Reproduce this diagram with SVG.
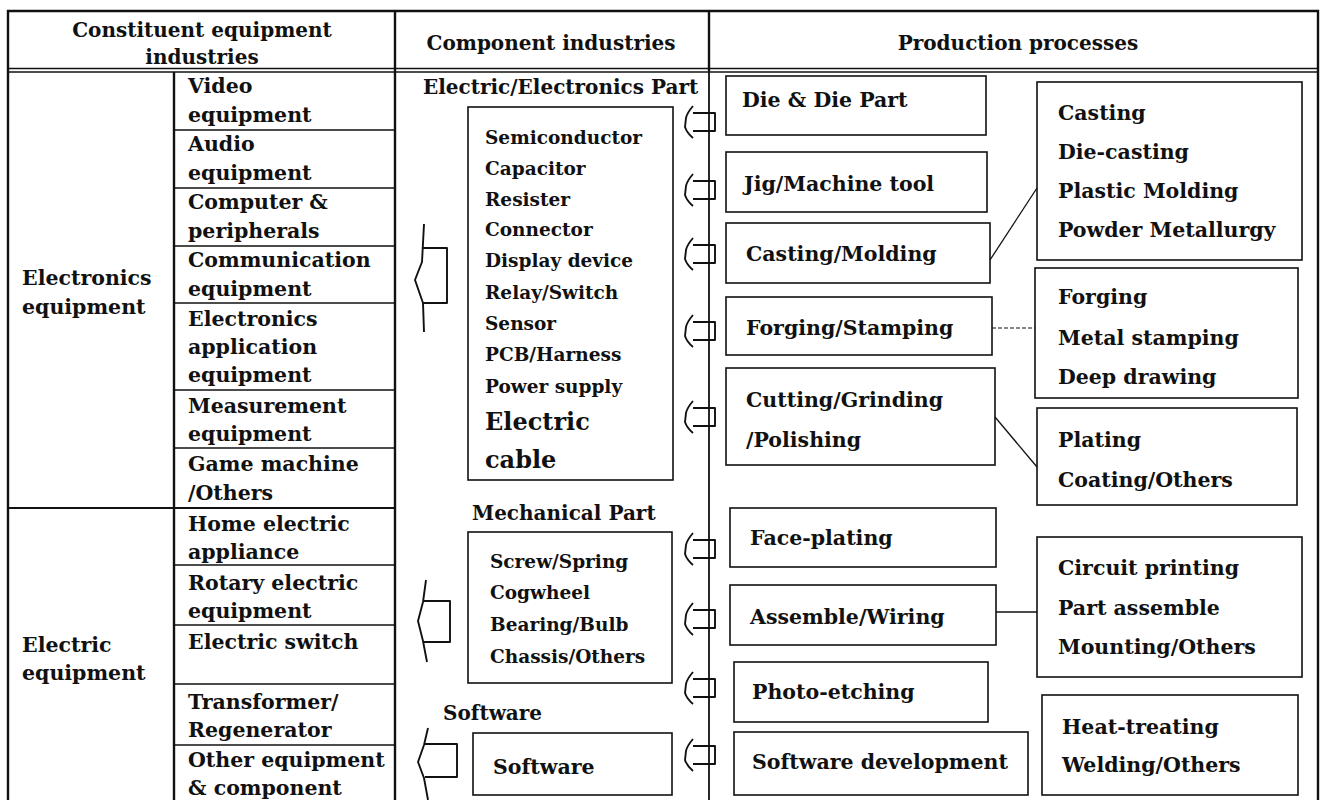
<svg xmlns="http://www.w3.org/2000/svg" xmlns:xlink="http://www.w3.org/1999/xlink" width="1325" height="800" viewBox="0 0 1325 800">
<style>
.t{font-family:"DejaVu Serif","Liberation Serif",serif;font-weight:bold;font-size:20.5px;fill:#111}
.h{font-size:20px}
.lb{font-size:20px}
.s{font-size:18.5px}
.big{font-size:24px}
.c3{font-size:20.5px}
.box{fill:none;stroke:#111;stroke-width:1.6}
.ln{fill:none;stroke:#111;stroke-width:1.3}
.fr{fill:none;stroke:#111;stroke-width:2.4}
.dash{fill:none;stroke:#111;stroke-width:1.2;stroke-dasharray:4 2}
.ar{fill:none;stroke:#111;stroke-width:1.9;stroke-linejoin:round}
</style>
<defs>
<g id="sa">
<path class="ar" d="M9,-16 Q3,-9 2,-4 L1,5 Q3,11 9,16"/>
<path class="ar" d="M9,-9 H31 V9 H9"/>
</g>
</defs>
<rect width="1325" height="800" fill="#fff"/>

<g id="table">
<path class="fr" d="M8,800 V11 H1318 V800"/>
<line class="fr" x1="395" y1="11" x2="395" y2="800"/>
<line class="fr" x1="709" y1="11" x2="709" y2="71"/>
<line class="ln" x1="8" y1="68.5" x2="1318" y2="68.5"/>
<line class="ln" x1="8" y1="72" x2="1318" y2="72"/>
<line class="fr" x1="174" y1="72" x2="174" y2="800"/>
<line class="ln" x1="174" y1="130" x2="395" y2="130"/>
<line class="ln" x1="174" y1="188" x2="395" y2="188"/>
<line class="ln" x1="174" y1="246" x2="395" y2="246"/>
<line class="ln" x1="174" y1="303" x2="395" y2="303"/>
<line class="ln" x1="174" y1="390" x2="395" y2="390"/>
<line class="ln" x1="174" y1="448" x2="395" y2="448"/>
<line class="ln" x1="8" y1="508" x2="395" y2="508" style="stroke-width:1.8"/>
<line class="ln" x1="174" y1="565" x2="395" y2="565"/>
<line class="ln" x1="174" y1="625" x2="395" y2="625"/>
<line class="ln" x1="174" y1="684" x2="395" y2="684"/>
<line class="ln" x1="174" y1="745" x2="395" y2="745"/>
</g>

<g id="headers">
<text class="t h" x="202" y="37" text-anchor="middle">Constituent equipment</text>
<text class="t h" x="202" y="64" text-anchor="middle">industries</text>
<text class="t h" x="551" y="50" text-anchor="middle">Component industries</text>
<text class="t h" x="1018" y="50" text-anchor="middle">Production processes</text>
</g>

<g id="grp-electronics"><text class="t" x="22" y="285">Electronics</text><text class="t" x="22" y="314">equipment</text></g>
<g id="grp-electric"><text class="t" x="22" y="652">Electric</text><text class="t" x="22" y="680">equipment</text></g>

<g id="eq-video"><text class="t" x="188" y="93">Video</text><text class="t" x="188" y="122">equipment</text></g>
<g id="eq-audio"><text class="t" x="188" y="151">Audio</text><text class="t" x="188" y="180">equipment</text></g>
<g id="eq-computer"><text class="t" x="188" y="209">Computer &amp;</text><text class="t" x="188" y="238">peripherals</text></g>
<g id="eq-communication"><text class="t" x="188" y="267">Communication</text><text class="t" x="188" y="296">equipment</text></g>
<g id="eq-application"><text class="t" x="188" y="326">Electronics</text><text class="t" x="188" y="354">application</text><text class="t" x="188" y="382">equipment</text></g>
<g id="eq-measurement"><text class="t" x="188" y="413">Measurement</text><text class="t" x="188" y="441">equipment</text></g>
<g id="eq-game"><text class="t" x="188" y="471">Game machine</text><text class="t" x="188" y="500">/Others</text></g>
<g id="eq-home"><text class="t" x="188" y="531">Home electric</text><text class="t" x="188" y="559">appliance</text></g>
<g id="eq-rotary"><text class="t" x="188" y="590">Rotary electric</text><text class="t" x="188" y="618">equipment</text></g>
<g id="eq-switch"><text class="t" x="188" y="649">Electric switch</text></g>
<g id="eq-transformer"><text class="t" x="188" y="709">Transformer/</text><text class="t" x="188" y="737">Regenerator</text></g>
<g id="eq-other"><text class="t" x="188" y="767">Other equipment</text><text class="t" x="188" y="795">&amp; component</text></g>

<g id="comp-electronics">
<text class="t lb" x="423" y="94">Electric/Electronics Part</text>
<rect class="box" x="468" y="107" width="205" height="373"/>
<text class="t s" x="485" y="144">Semiconductor</text>
<text class="t s" x="485" y="175">Capacitor</text>
<text class="t s" x="485" y="206">Resister</text>
<text class="t s" x="485" y="236">Connector</text>
<text class="t s" x="485" y="267">Display device</text>
<text class="t s" x="485" y="299">Relay/Switch</text>
<text class="t s" x="485" y="330">Sensor</text>
<text class="t s" x="485" y="361">PCB/Harness</text>
<text class="t s" x="485" y="393">Power supply</text>
<text class="t big" x="485" y="430">Electric</text>
<text class="t big" x="485" y="468">cable</text>
</g>
<g id="comp-mechanical">
<text class="t lb" x="472" y="520">Mechanical Part</text>
<rect class="box" x="468" y="532" width="204" height="151"/>
<text class="t s" x="490" y="568">Screw/Spring</text>
<text class="t s" x="490" y="599">Cogwheel</text>
<text class="t s" x="490" y="631">Bearing/Bulb</text>
<text class="t s" x="490" y="663">Chassis/Others</text>
</g>
<g id="comp-software">
<text class="t lb" x="443" y="720">Software</text>
<rect class="box" x="473" y="733" width="199" height="62"/>
<text class="t" x="493" y="774">Software</text>
</g>

<g id="p-die"><rect class="box" x="726" y="76" width="260" height="59"/><text class="t c3" x="742" y="107">Die &amp; Die Part</text></g>
<g id="p-jig"><rect class="box" x="726" y="152" width="261" height="60"/><text class="t c3" x="744" y="191">Jig/Machine tool</text></g>
<g id="p-casting"><rect class="box" x="726" y="223" width="264" height="60"/><text class="t c3" x="746" y="261">Casting/Molding</text></g>
<g id="p-forging"><rect class="box" x="726" y="297" width="266" height="58"/><text class="t c3" x="746" y="335">Forging/Stamping</text></g>
<g id="p-cutting"><rect class="box" x="726" y="368" width="269" height="97"/><text class="t c3" x="746" y="407">Cutting/Grinding</text><text class="t c3" x="746" y="447">/Polishing</text></g>
<g id="p-face"><rect class="box" x="730" y="508" width="266" height="59"/><text class="t c3" x="750" y="545">Face-plating</text></g>
<g id="p-assemble"><rect class="box" x="730" y="585" width="266" height="60"/><text class="t c3" x="750" y="624">Assemble/Wiring</text></g>
<g id="p-photo"><rect class="box" x="734" y="662" width="254" height="60"/><text class="t c3" x="752" y="699">Photo-etching</text></g>
<g id="p-softdev"><rect class="box" x="734" y="732" width="294" height="63"/><text class="t c3" x="752" y="769">Software development</text></g>

<g id="d-casting"><rect class="box" x="1037" y="82" width="265" height="178"/>
<text class="t c3" x="1058" y="120">Casting</text><text class="t c3" x="1058" y="159">Die-casting</text><text class="t c3" x="1058" y="198">Plastic Molding</text><text class="t c3" x="1058" y="237">Powder Metallurgy</text></g>
<g id="d-forging"><rect class="box" x="1035" y="268" width="263" height="130"/>
<text class="t c3" x="1058" y="304">Forging</text><text class="t c3" x="1058" y="345">Metal stamping</text><text class="t c3" x="1058" y="384">Deep drawing</text></g>
<g id="d-plating"><rect class="box" x="1037" y="408" width="260" height="97"/>
<text class="t c3" x="1058" y="447">Plating</text><text class="t c3" x="1058" y="487">Coating/Others</text></g>
<g id="d-circuit"><rect class="box" x="1037" y="537" width="265" height="140"/>
<text class="t c3" x="1058" y="575">Circuit printing</text><text class="t c3" x="1058" y="615">Part assemble</text><text class="t c3" x="1058" y="654">Mounting/Others</text></g>
<g id="d-heat"><rect class="box" x="1042" y="695" width="256" height="100"/>
<text class="t c3" x="1062" y="734">Heat-treating</text><text class="t c3" x="1062" y="772">Welding/Others</text></g>

<g id="connectors">
<line class="ln" x1="709" y1="71" x2="709" y2="800" style="stroke-width:1.8"/>
<use xlink:href="#sa" href="#sa" transform="translate(684,122)"/>
<use xlink:href="#sa" href="#sa" transform="translate(684,190)"/>
<use xlink:href="#sa" href="#sa" transform="translate(684,254)"/>
<use xlink:href="#sa" href="#sa" transform="translate(684,331)"/>
<use xlink:href="#sa" href="#sa" transform="translate(684,417)"/>
<use xlink:href="#sa" href="#sa" transform="translate(684,549)"/>
<use xlink:href="#sa" href="#sa" transform="translate(684,619)"/>
<use xlink:href="#sa" href="#sa" transform="translate(684,688)"/>
<use xlink:href="#sa" href="#sa" transform="translate(684,755)"/>
<path class="ar" d="M424,224 L422,262 Q418,272 415,280 L423,303 L424,332"/>
<path class="ar" d="M423,248 H447 V303 H423"/>
<path class="ar" d="M426,580 L423,602 L418,621 L423,641 L427,662"/>
<path class="ar" d="M424,601 H450 V642 H424"/>
<path class="ar" d="M428,728 L424,745 L418,762 L424,778 L428,800"/>
<path class="ar" d="M425,744 H457 V777 H425"/>
<line class="ln" x1="990" y1="260" x2="1037" y2="188"/>
<line class="dash" x1="992" y1="328" x2="1035" y2="328"/>
<line class="ln" x1="995" y1="417" x2="1037" y2="467"/>
<line class="ln" x1="996" y1="612" x2="1037" y2="612"/>
</g>
</svg>
